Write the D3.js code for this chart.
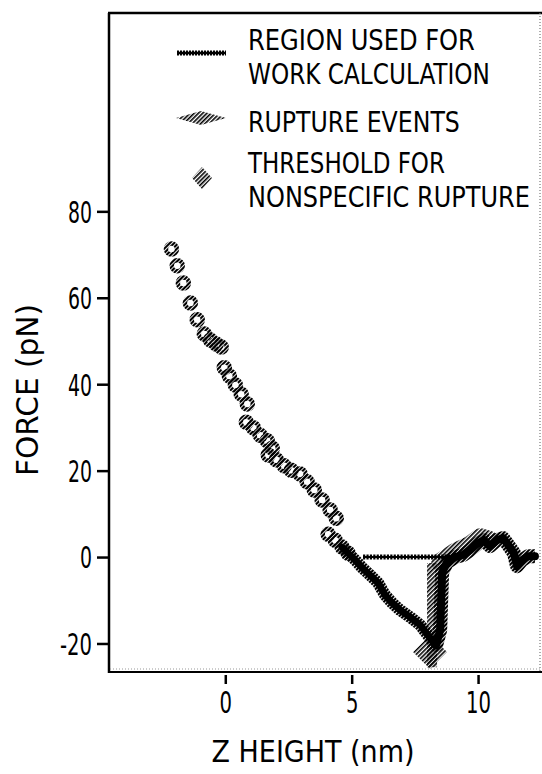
<!DOCTYPE html>
<html>
<head>
<meta charset="utf-8">
<script src="https://cdn.jsdelivr.net/npm/d3@7"></script>
<style>
    html, body { margin: 0; padding: 0; background: #fff; }
    svg text { font-family: "DejaVu Sans Condensed", "DejaVu Sans", sans-serif; fill: #000; }
</style>
</head>
<body>
<div id="chart"></div>
<script>

/*
 * Approach curve (ring markers).
 */
const approachZ = [-2.13, -1.90, -1.66, -1.38, -1.11, -0.83, -0.59, -0.36, -0.16,
    -0.04, 0.16, 0.40, 0.63, 0.87, 0.83, 1.11, 1.38, 1.66, 1.86, 1.70, 2.02, 2.33,
    2.61, 2.96, 3.24, 3.52, 3.83, 4.15, 4.39, 4.07, 4.35, 4.62, 4.86];
const approachForce = [71.3, 67.4, 63.4, 58.8, 54.9, 51.6, 50.2, 49.3, 48.6,
    43.8, 41.9, 39.8, 37.7, 35.4, 31.2, 29.9, 28.2, 26.9, 25.2, 23.6, 22.5, 21.1,
    20.1, 19.2, 17.4, 15.5, 13.2, 10.9, 9.0, 5.3, 3.9, 2.3, 0.9];

/*
 * Region used for work calculation.
 */
const workZ = [4.62, 4.86, 5.14, 5.42, 5.73, 6.05, 6.32, 6.60, 6.92, 7.31, 7.71, 8.02, 8.26];
const workForce = [2.3, 0.9, -0.7, -2.5, -4.2, -6.0, -8.8, -10.6, -12.3, -13.9, -15.7, -18.1, -19.9];

/*
 * Curve after the rupture.
 */
const retractZ = [8.26, 8.34, 8.50, 8.54, 8.58, 8.77, 9.09, 9.41, 9.68, 10.00, 10.24,
    10.47, 10.75, 10.99, 11.19, 11.42, 11.54, 11.74, 11.98, 12.25];
const retractForce = [-19.9, -20.4, -16.9, -10.0, -3.5, -1.2, 0.0, 0.5, 1.6, 3.2, 3.9,
    2.5, 3.9, 4.4, 2.8, 0.9, -2.1, -0.7, 0.2, 0.2];

/*
 * Rupture events.
 */
const ruptureLineZ = [8.18, 8.18];
const ruptureLineForce = [-1.4, -25.5];
const ruptureBandZ = [8.50, 9.09, 9.68, 10.08, 10.47];
const ruptureBandForce = [-1.2, 1.2, 2.8, 4.6, 3.9];
const rupturePointZ = [8.10];
const rupturePointForce = [-22.0];

/*
 * Threshold for nonspecific rupture.
 */
const thresholdZ = [5.45, 9.0];
const thresholdForce = [0, 0];

const xTicks = [0, 5, 10];
const yTicks = [-20, 0, 20, 40, 60, 80];
const xTitle = 'Z HEIGHT (nm)';
const yTitle = 'FORCE (pN)';
const legendLines = [
    ['REGION USED FOR', 'WORK CALCULATION'],
    ['RUPTURE EVENTS'],
    ['THRESHOLD FOR', 'NONSPECIFIC RUPTURE']
];


const width = 542;
const height = 774;

const svg = d3.select('#chart')
    .append('svg')
    .attr('width', width)
    .attr('height', height);

const defs = svg.append('defs');

defs.append('pattern')
    .attr('id', 'hatch')
    .attr('patternUnits', 'userSpaceOnUse')
    .attr('width', 3)
    .attr('height', 3)
    .attr('patternTransform', 'rotate(45)')
    .append('rect')
    .attr('width', 1.6)
    .attr('height', 3)
    .attr('fill', '#000');

defs.append('pattern')
    .attr('id', 'hatchDark')
    .attr('patternUnits', 'userSpaceOnUse')
    .attr('width', 3)
    .attr('height', 3)
    .attr('patternTransform', 'rotate(45)')
    .append('rect')
    .attr('width', 2.1)
    .attr('height', 3)
    .attr('fill', '#000');

const xScale = d3.scaleLinear().domain([-4.6, 12.45]).range([109, 540]);
const yScale = d3.scaleLinear().domain([-26.6, 125.9]).range([672, 13]);

const zip = (xs, ys) => xs.map((v, i) => [v, ys[i]]);

const line = d3.line()
    .x(d => xScale(d[0]))
    .y(d => yScale(d[1]));

/*
 * Squeeze a text horizontally to a given width (condensed plotter look).
 */
function fitText(x, y, label, size, targetWidth, anchor, rotate) {

    const g = svg.append('g')
        .attr('transform', 'translate(' + [x, y] + ')' + (rotate ? ' rotate(' + rotate + ')' : ''));
    const t = g.append('text')
        .attr('font-size', size)
        .attr('text-anchor', anchor || 'start')
        .text(label);
    const natural = t.node().getComputedTextLength();
    t.attr('transform', 'scale(' + (targetWidth / natural) + ',1)');
    return t;
}

/*
 * Frame.
 */
svg.append('line')
    .attr('x1', 109).attr('x2', 109).attr('y1', 13).attr('y2', 673)
    .attr('stroke', '#000').attr('stroke-width', 2.5);
svg.append('line')
    .attr('x1', 108).attr('x2', 542).attr('y1', 13).attr('y2', 13)
    .attr('stroke', '#000').attr('stroke-width', 2.5);
svg.append('line')
    .attr('x1', 108).attr('x2', 542).attr('y1', 672).attr('y2', 672)
    .attr('stroke', '#000').attr('stroke-width', 2);
svg.append('line')
    .attr('x1', 110).attr('x2', 540).attr('y1', 669).attr('y2', 669)
    .attr('stroke', '#999').attr('stroke-width', 1).attr('stroke-dasharray', '1,2');
svg.append('line')
    .attr('x1', 540).attr('x2', 540).attr('y1', 13).attr('y2', 672)
    .attr('stroke', '#777').attr('stroke-width', 1.2).attr('stroke-dasharray', '1,2');

/*
 * Axes.
 */
const yAxis = svg.append('g')
    .attr('transform', 'translate(108,0)')
    .call(d3.axisLeft(yScale).tickValues(yTicks).tickSize(11).tickPadding(5).tickFormat(d => d));
yAxis.select('.domain').remove();
yAxis.selectAll('.tick line').attr('stroke', '#000').attr('stroke-width', 2.5);
yAxis.selectAll('.tick text')
    .attr('font-size', 30)
    .attr('dy', '0.36em')
    .attr('textLength', d => String(d).length * 12 + (d < 0 ? -4 : 0))
    .attr('lengthAdjust', 'spacingAndGlyphs');

const xAxis = svg.append('g')
    .attr('transform', 'translate(0,675)')
    .call(d3.axisBottom(xScale).tickValues(xTicks).tickSize(9).tickPadding(7).tickFormat(d => d));
xAxis.select('.domain').remove();
xAxis.selectAll('.tick line').attr('stroke', '#000').attr('stroke-width', 2.5);
xAxis.selectAll('.tick text')
    .attr('font-size', 31)
    .attr('dy', '0.71em')
    .attr('textLength', d => String(d).length * 12.5)
    .attr('lengthAdjust', 'spacingAndGlyphs');

fitText(313, 762, xTitle, 31, 203, 'middle');
fitText(38, 390, yTitle, 31, 172, 'middle', -90);

/*
 * Plot area.
 */
const plot = svg.append('g');

// threshold
plot.append('path')
    .datum(zip(thresholdZ, thresholdForce))
    .attr('d', line)
    .attr('fill', 'none')
    .attr('stroke', '#000')
    .attr('stroke-width', 2);
plot.append('path')
    .datum(zip(thresholdZ, thresholdForce))
    .attr('d', line)
    .attr('fill', 'none')
    .attr('stroke', '#000')
    .attr('stroke-width', 5)
    .attr('stroke-dasharray', '2.2,1.2');

// rupture events
plot.append('path')
    .datum(zip(ruptureLineZ, ruptureLineForce))
    .attr('d', line)
    .attr('fill', 'none')
    .attr('stroke', 'url(#hatch)')
    .attr('stroke-width', 10);
plot.append('path')
    .datum(zip(ruptureBandZ, ruptureBandForce))
    .attr('d', line)
    .attr('fill', 'none')
    .attr('stroke', 'url(#hatch)')
    .attr('stroke-width', 18)
    .attr('stroke-linejoin', 'round')
    .attr('stroke-linecap', 'round');
plot.selectAll('.rupture-point')
    .data(zip(rupturePointZ, rupturePointForce))
    .enter()
    .append('path')
    .attr('class', 'rupture-point')
    .attr('transform', d => 'translate(' + [xScale(d[0]), yScale(d[1])] + ')')
    .attr('d', 'M-17,0L0,-17L17,0L0,17Z')
    .attr('fill', 'url(#hatch)');

// work region and curve after rupture
[zip(workZ, workForce), zip(retractZ, retractForce)].forEach(function(points, i) {
    plot.append('path')
        .datum(points)
        .attr('d', line)
        .attr('fill', 'none')
        .attr('stroke', 'url(#hatchDark)')
        .attr('stroke-width', i ? 14 : 12)
        .attr('stroke-linejoin', 'round');
    plot.append('path')
        .datum(points)
        .attr('d', line)
        .attr('fill', 'none')
        .attr('stroke', '#000')
        .attr('stroke-width', i ? 8 : 7)
        .attr('stroke-linejoin', 'round')
        .attr('stroke-linecap', 'round');
});

// approach markers
plot.selectAll('.approach')
    .data(zip(approachZ, approachForce))
    .enter()
    .append('circle')
    .attr('class', 'approach')
    .attr('cx', d => xScale(d[0]))
    .attr('cy', d => yScale(d[1]))
    .attr('r', 5.5)
    .attr('fill', 'none')
    .attr('stroke', 'url(#hatchDark)')
    .attr('stroke-width', 4.5);

/*
 * Legend.
 */
const legendBaselines = [[50, 84], [132], [173, 207]];
const legendWidths = [[227, 242], [212], [197, 282]];

legendLines.forEach(function(rows, i) {
    rows.forEach(function(label, j) {
        fitText(248, legendBaselines[i][j], label, 29, legendWidths[i][j]);
    });
});

svg.append('line')
    .attr('x1', 177).attr('x2', 226).attr('y1', 53).attr('y2', 53)
    .attr('stroke', '#000').attr('stroke-width', 2.5);
svg.append('line')
    .attr('x1', 177).attr('x2', 226).attr('y1', 53).attr('y2', 53)
    .attr('stroke', '#000').attr('stroke-width', 5).attr('stroke-dasharray', '2,1');
svg.append('path')
    .attr('transform', 'translate(201,118)')
    .attr('d', 'M-25,0L0,-7L25,0L0,7Z')
    .attr('fill', 'url(#hatch)');
svg.append('path')
    .attr('transform', 'translate(202,178)')
    .attr('d', 'M-10,0L0,-11L10,0L0,11Z')
    .attr('fill', 'url(#hatch)');

</script>
</body>
</html>
